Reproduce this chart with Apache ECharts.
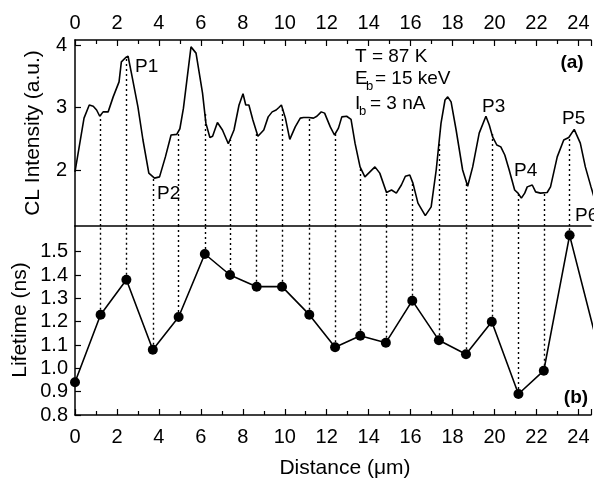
<!DOCTYPE html>
<html>
<head>
<meta charset="utf-8">
<script src="https://cdn.jsdelivr.net/npm/echarts@6/dist/echarts.min.js"></script>
<style>html,body{margin:0;padding:0;background:#fff}#c{width:594px;height:479px}</style>
</head>
<body>
<div id="c"></div>
<script>
// CL intensity profile (distance in um, intensity in a.u.)
const clX = [0.0,0.43,0.68,0.87,1.03,1.18,1.34,1.58,1.82,2.1,2.21,2.42,2.53,2.69,3.0,3.24,3.52,3.79,4.03,4.31,4.58,4.85,5.0,5.17,5.53,5.77,6.08,6.24,6.43,6.56,6.79,7.03,7.31,7.58,7.82,8.01,8.14,8.29,8.48,8.72,9.0,9.21,9.4,9.59,9.72,9.84,10.03,10.24,10.5,10.74,10.9,11.14,11.37,11.53,11.74,11.9,12.17,12.37,12.56,12.72,12.95,13.16,13.35,13.59,13.82,14.06,14.3,14.53,14.85,15.09,15.32,15.56,15.75,15.96,16.11,16.35,16.7,16.98,17.22,17.45,17.64,17.77,17.93,18.17,18.48,18.72,18.96,19.27,19.59,19.75,19.91,20.11,20.3,20.49,20.7,20.96,21.12,21.28,21.44,21.56,21.8,21.96,22.19,22.51,22.67,22.99,23.3,23.54,23.8,24.09,24.33,24.6,24.8];
const clY = [1.97,2.83,3.04,3.02,2.96,2.86,2.93,2.93,3.17,3.41,3.73,3.80,3.82,3.55,3.01,2.48,1.95,1.87,1.89,2.21,2.56,2.57,2.66,2.99,3.97,3.87,3.23,2.75,2.52,2.54,2.76,2.64,2.42,2.64,3.04,3.22,3.04,3.04,2.80,2.54,2.64,2.85,2.93,2.96,3.00,3.04,2.83,2.49,2.69,2.83,2.84,2.84,2.83,2.86,2.93,2.91,2.69,2.56,2.67,2.85,2.86,2.81,2.43,2.05,1.89,1.97,2.05,1.95,1.64,1.68,1.63,1.76,1.90,1.92,1.79,1.47,1.27,1.41,2.00,2.75,3.12,3.17,3.09,2.64,2.00,1.74,2.05,2.59,2.86,2.72,2.53,2.40,2.37,2.24,2.00,1.68,1.63,1.55,1.63,1.73,1.76,1.65,1.63,1.64,1.73,2.21,2.48,2.52,2.65,2.43,2.05,1.73,1.50];
// Lifetime measurements (distance in um, lifetime in ns)
const ltX = [0,1.22,2.45,3.71,4.94,6.19,7.39,8.66,9.87,11.17,12.4,13.6,14.82,16.08,17.35,18.64,19.87,21.14,22.35,23.58,24.8];
const ltY = [0.94,1.23,1.38,1.08,1.22,1.49,1.40,1.35,1.35,1.23,1.09,1.14,1.11,1.29,1.12,1.06,1.20,0.89,0.99,1.57,1.14];
const topTicks = [2,3,4];
const botTicks = [0.8,0.9,1.0,1.1,1.2,1.3,1.4,1.5];

const FONT = '"Liberation Sans", Arial, Helvetica, sans-serif';
const X_MAX = 24.6, TOP_MIN = 1.104, TOP_MAX = 4.08, BOT_MIN = 0.8, BOT_MAX = 1.61;

function interpCL(x){
  for (let i=1;i<clX.length;i++){
    if (x <= clX[i]) {
      const t = (x - clX[i-1])/(clX[i]-clX[i-1]);
      return clY[i-1] + t*(clY[i]-clY[i-1]);
    }
  }
  return clY[clY.length-1];
}
const topGuides = [], botGuides = [];
for (let i=1;i<ltX.length-1;i++){
  topGuides.push([{coord:[ltX[i], TOP_MIN]}, {coord:[ltX[i], interpCL(ltX[i])]}]);
  botGuides.push([{coord:[ltX[i], ltY[i]]}, {coord:[ltX[i], BOT_MAX]}]);
}
const guideStyle = {color:'#000', width:1.4, type:[2,3]};
const evenFmt = v => (Math.abs(v-Math.round(v))<1e-6 && Math.round(v)%2===0) ? String(Math.round(v)) : '';
const axLine = {lineStyle:{color:'#000', width:1.5}};

const chart = echarts.init(document.getElementById('c'), null, {renderer:'canvas'});
chart.setOption({
  animation:false,
  backgroundColor:'#fff',
  grid:[{left:75, right:0, top:40, height:186},{left:75, right:0, top:226, height:189}],
  xAxis:[
    {gridIndex:0, type:'value', min:0, max:X_MAX, interval:2, position:'top',
     axisLine:axLine, axisTick:{inside:true, length:6, lineStyle:{color:'#000', width:1.2}},
     minorTick:{show:true, splitNumber:2, length:4, lineStyle:{color:'#000', width:1.2}},
     axisLabel:{color:'#000', fontSize:20, fontFamily:FONT, margin:7, formatter:evenFmt},
     splitLine:{show:false}},
    {gridIndex:0, type:'value', min:0, max:X_MAX, position:'bottom',
     axisLine:axLine, axisTick:{show:false}, axisLabel:{show:false}, splitLine:{show:false}},
    {gridIndex:1, type:'value', min:0, max:X_MAX, interval:2, position:'bottom',
     axisLine:axLine, axisTick:{inside:true, length:6, lineStyle:{color:'#000', width:1.2}},
     minorTick:{show:true, splitNumber:2, length:4, lineStyle:{color:'#000', width:1.2}},
     axisLabel:{color:'#000', fontSize:20, fontFamily:FONT, margin:12, formatter:evenFmt},
     splitLine:{show:false}}
  ],
  yAxis:[
    {gridIndex:0, type:'value', min:TOP_MIN, max:TOP_MAX,
     axisLine:{show:true, lineStyle:{color:'#000', width:1.5}},
     axisTick:{show:true, inside:true, length:6, customValues:topTicks, lineStyle:{color:'#000', width:1.2}},
     axisLabel:{color:'#000', fontSize:20, fontFamily:FONT, margin:8, customValues:topTicks, formatter:v=>String(Math.round(v))},
     splitLine:{show:false}},
    {gridIndex:1, type:'value', min:BOT_MIN, max:BOT_MAX,
     axisLine:{show:true, lineStyle:{color:'#000', width:1.5}},
     axisTick:{show:true, inside:true, length:6, customValues:botTicks, lineStyle:{color:'#000', width:1.2}},
     axisLabel:{color:'#000', fontSize:20, fontFamily:FONT, margin:7, customValues:botTicks, formatter:v=>v.toFixed(1)},
     splitLine:{show:false}}
  ],
  series:[
    {type:'line', xAxisIndex:0, yAxisIndex:0, data:clX.map((x,i)=>[x,clY[i]]),
     showSymbol:false, symbol:'none', lineStyle:{color:'#000', width:1.6}, clip:true,
     markLine:{silent:true, symbol:['none','none'], label:{show:false}, lineStyle:guideStyle, data:topGuides}},
    {type:'line', xAxisIndex:2, yAxisIndex:1, data:ltX.map((x,i)=>[x,ltY[i]]),
     symbol:'circle', symbolSize:10, itemStyle:{color:'#000'}, lineStyle:{color:'#000', width:1.6}, clip:true,
     markLine:{silent:true, symbol:['none','none'], label:{show:false}, lineStyle:guideStyle, data:botGuides}, z:3}
  ],
  graphic:[
    {type:'text', x:33, y:133, rotation:Math.PI/2, style:{text:'CL Intensity (a.u.)', font:'21px '+FONT, fill:'#000', align:'center', verticalAlign:'middle'}},
    {type:'text', x:20, y:320, rotation:Math.PI/2, style:{text:'Lifetime (ns)', font:'21px '+FONT, fill:'#000', align:'center', verticalAlign:'middle'}},
    {type:'text', x:345, y:468, style:{text:'Distance (\u03bcm)', font:'21px '+FONT, fill:'#000', align:'center', verticalAlign:'middle'}},
    {type:'text', x:355, y:57, style:{text:'T = 87 K', font:'19px '+FONT, fill:'#000', align:'left', verticalAlign:'middle'}},
    {type:'text', x:355, y:79, style:{text:'E', font:'19px '+FONT, fill:'#000', align:'left', verticalAlign:'middle'}},
    {type:'text', x:366, y:86, style:{text:'b', font:'13px '+FONT, fill:'#000', align:'left', verticalAlign:'middle'}},
    {type:'text', x:375, y:79, style:{text:'= 15 keV', font:'19px '+FONT, fill:'#000', align:'left', verticalAlign:'middle'}},
    {type:'text', x:355, y:104, style:{text:'I', font:'19px '+FONT, fill:'#000', align:'left', verticalAlign:'middle'}},
    {type:'text', x:359, y:111, style:{text:'b', font:'13px '+FONT, fill:'#000', align:'left', verticalAlign:'middle'}},
    {type:'text', x:370, y:104, style:{text:'= 3 nA', font:'19px '+FONT, fill:'#000', align:'left', verticalAlign:'middle'}},
    {type:'text', x:572, y:63, style:{text:'(a)', font:'bold 19px '+FONT, fill:'#000', align:'center', verticalAlign:'middle'}},
    {type:'text', x:576, y:398, style:{text:'(b)', font:'bold 19px '+FONT, fill:'#000', align:'center', verticalAlign:'middle'}},
    {type:'text', x:135, y:67, style:{text:'P1', font:'19px '+FONT, fill:'#000', align:'left', verticalAlign:'middle'}},
    {type:'text', x:157, y:194, style:{text:'P2', font:'19px '+FONT, fill:'#000', align:'left', verticalAlign:'middle'}},
    {type:'text', x:482, y:107, style:{text:'P3', font:'19px '+FONT, fill:'#000', align:'left', verticalAlign:'middle'}},
    {type:'text', x:514, y:171, style:{text:'P4', font:'19px '+FONT, fill:'#000', align:'left', verticalAlign:'middle'}},
    {type:'text', x:562, y:119, style:{text:'P5', font:'19px '+FONT, fill:'#000', align:'left', verticalAlign:'middle'}},
    {type:'text', x:575, y:216, style:{text:'P6', font:'19px '+FONT, fill:'#000', align:'left', verticalAlign:'middle'}}
  ]
});
</script>
</body>
</html>
